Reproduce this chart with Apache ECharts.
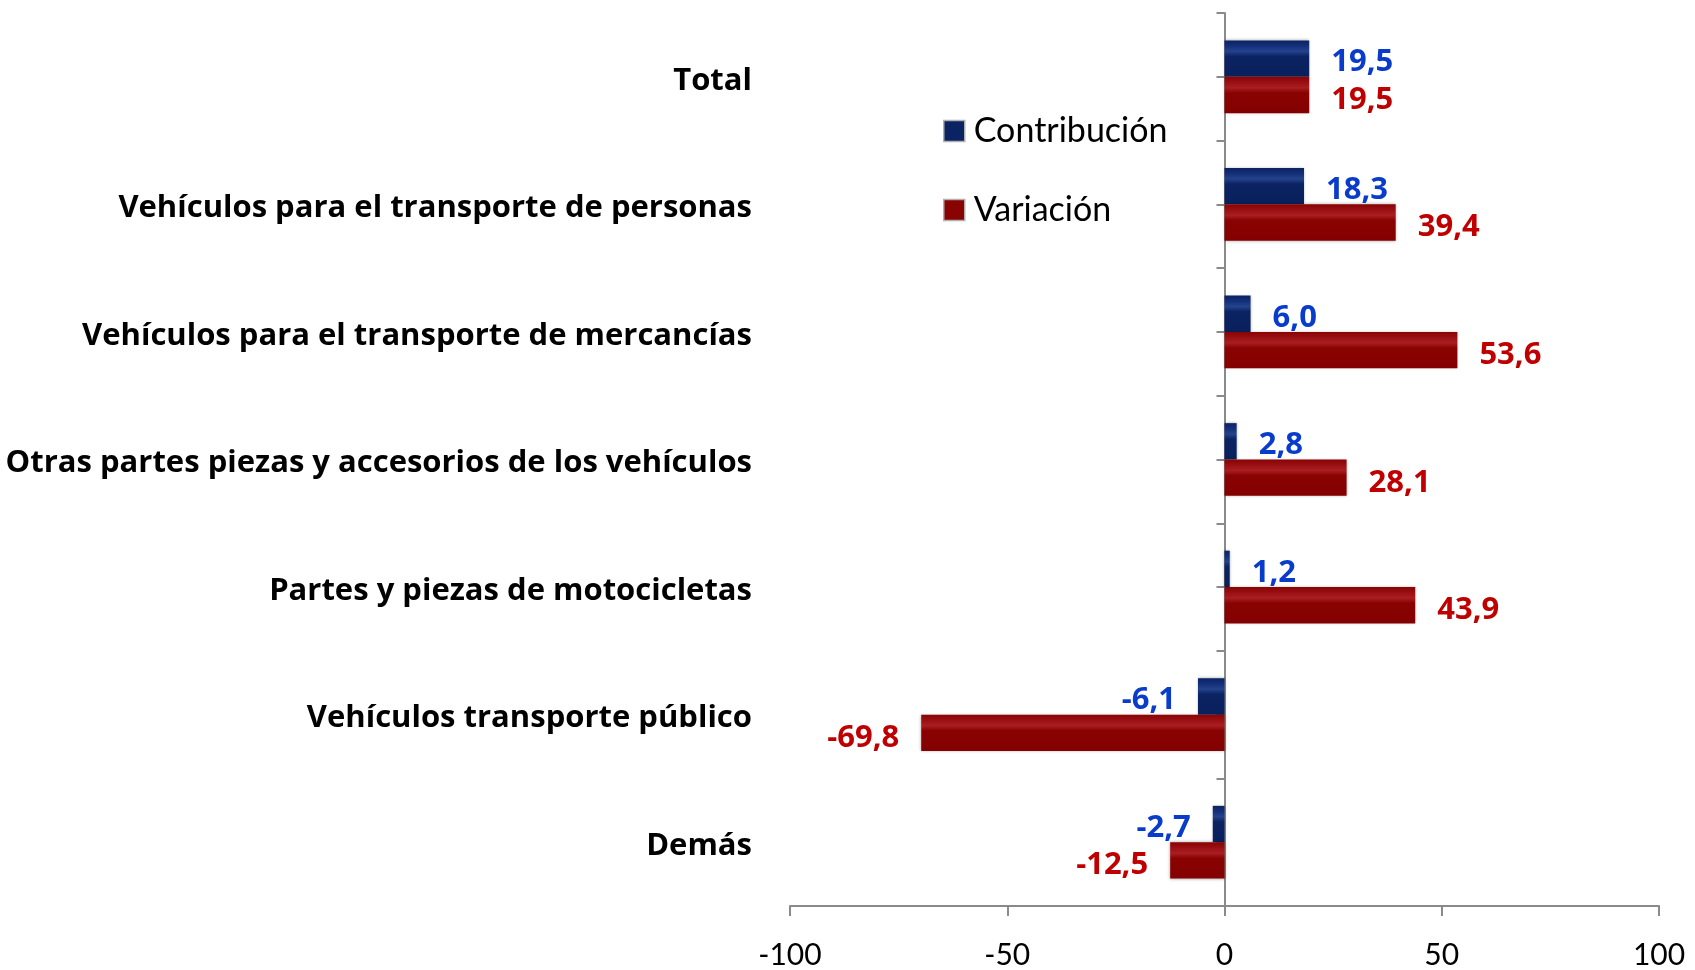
<!DOCTYPE html>
<html>
<head>
<meta charset="utf-8">
<script src="https://cdn.jsdelivr.net/npm/echarts@6/dist/echarts.min.js"></script>
<style>
html,body{margin:0;padding:0;background:#fff;}
#chart{width:1695px;height:970px;}
</style>
</head>
<body>
<div id="chart"></div>
<script>
var categories = [
  'Total',
  'Vehículos para el transporte de personas',
  'Vehículos para el transporte de mercancías',
  'Otras partes piezas y accesorios de los vehículos',
  'Partes y piezas de motocicletas',
  'Vehículos transporte público',
  'Demás'
];
var contribucion = [19.5, 18.3, 6.0, 2.8, 1.2, -6.1, -2.7];
var variacion = [19.5, 39.4, 53.6, 28.1, 43.9, -69.8, -12.5];
var seriesNames = ['Contribución', 'Variación'];
var xTicks = [-100, -50, 0, 50, 100];

var FONT = 'Lato';
var BOLDFONT = 'Open Sans';
var chart = echarts.init(document.getElementById('chart'), null, {renderer: 'canvas'});

function fmt(v) { return v.toFixed(1).replace('.', ','); }

function grad(c0, c1, c2, c3) {
  return new echarts.graphic.LinearGradient(0, 0, 0, 1, [
    {offset: 0, color: c0},
    {offset: 0.16, color: c1},
    {offset: 0.30, color: c2},
    {offset: 0.44, color: c0},
    {offset: 1, color: c3}
  ]);
}
var blueFill = grad('#0b2362', '#15307a', '#24438c', '#08205c');
var redFill = grad('#8a0303', '#9a1013', '#aa1e22', '#840000');

function mkData(arr) {
  return arr.map(function (v) {
    return {
      value: v,
      label: {position: v < 0 ? 'left' : 'right'}
    };
  });
}

var halfTicks = [];
for (var i = 0; i < categories.length * 2; i++) halfTicks.push('');

var option = {
  backgroundColor: '#ffffff',
  animation: false,
  grid: {left: 790, right: 36, top: 13, bottom: 63, containLabel: false},
  legend: {
    orient: 'vertical',
    left: 938,
    top: 109,
    itemWidth: 21,
    itemHeight: 21,
    itemGap: 45,
    icon: 'rect',
    textStyle: {fontFamily: FONT, fontSize: 34, color: '#000', lineHeight: 34, padding: [0, 0, 0, 4]},
    data: [
      {name: seriesNames[0], itemStyle: {color: '#0b2362', borderColor: '#b0b0b0', borderWidth: 1.5, shadowBlur: 0}},
      {name: seriesNames[1], itemStyle: {color: '#8a0303', borderColor: '#b0b0b0', borderWidth: 1.5, shadowBlur: 0}}
    ]
  },
  xAxis: {
    type: 'value',
    min: -100,
    max: 100,
    interval: 50,
    splitLine: {show: false},
    axisLine: {show: true, onZero: false, lineStyle: {color: '#8a8a8a', width: 2}},
    axisTick: {show: true, length: 10, lineStyle: {color: '#8a8a8a', width: 2}},
    axisLabel: {fontFamily: FONT, fontSize: 30, color: '#000', margin: 34,
      formatter: function (v) { return xTicks.indexOf(v) >= 0 ? String(v) : ''; }}
  },
  yAxis: [
    {
      type: 'category',
      data: categories,
      inverse: true,
      position: 'left',
      axisLine: {show: false, onZero: false},
      axisTick: {show: false},
      axisLabel: {fontFamily: BOLDFONT, fontWeight: 'bold', fontSize: 31, color: '#000', margin: 38,
        verticalAlign: 'top', lineHeight: 8}
    },
    {
      type: 'category',
      data: halfTicks,
      inverse: true,
      position: 'left',
      axisLine: {show: true, onZero: true, lineStyle: {color: '#8a8a8a', width: 2}},
      axisTick: {show: true, length: 8, lineStyle: {color: '#8a8a8a', width: 2}},
      axisLabel: {show: false}
    }
  ],
  series: [
    {
      name: seriesNames[0],
      type: 'bar',
      yAxisIndex: 0,
      barGap: '0%',
      barCategoryGap: '43%',
      data: mkData(contribucion),
      itemStyle: {color: blueFill, shadowColor: 'rgba(0,0,0,0.35)', shadowBlur: 3},
      label: {show: true, distance: 22, offset: [0, 4], fontFamily: BOLDFONT, fontWeight: 'bold', fontSize: 31, color: '#0a3ccc',
        formatter: function (p) { return fmt(p.value); }}
    },
    {
      name: seriesNames[1],
      type: 'bar',
      yAxisIndex: 0,
      barGap: '0%',
      barCategoryGap: '43%',
      data: mkData(variacion),
      itemStyle: {color: redFill, shadowColor: 'rgba(0,0,0,0.35)', shadowBlur: 3},
      label: {show: true, distance: 22, offset: [0, 5], fontFamily: BOLDFONT, fontWeight: 'bold', fontSize: 31, color: '#c00000',
        formatter: function (p) { return fmt(p.value); }}
    }
  ]
};
chart.setOption(option);
</script>
</body>
</html>
